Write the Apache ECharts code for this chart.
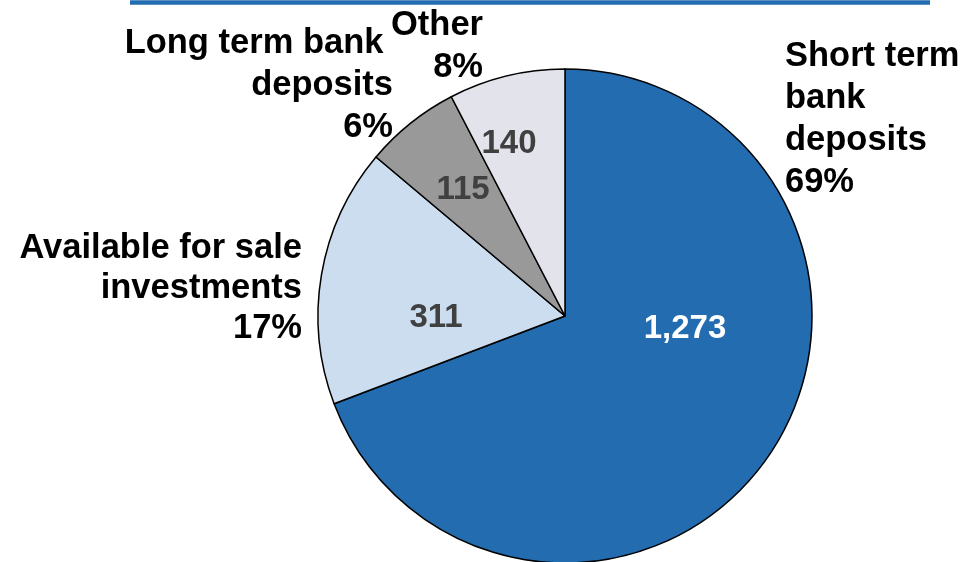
<!DOCTYPE html>
<html>
<head>
<meta charset="utf-8">
<script src="https://cdn.jsdelivr.net/npm/echarts@6/dist/echarts.min.js"></script>
<style>
html,body{margin:0;padding:0;background:#fff;}
#chart{width:974px;height:562px;}
</style>
</head>
<body>
<div id="chart"></div>
<script>
// Data
var categories = ['Short term\nbank\ndeposits', 'Available for sale\ninvestments', 'Long term bank \ndeposits', 'Other'];
var values = [1273, 311, 115, 140];
var percentLabels = ['69%', '17%', '6%', '8%'];
var valueLabels = ['1,273', '311', '115', '140'];

var colors = ['#236CB0', '#CCDDEF', '#999999', '#E3E3EC'];
var innerColors = ['#ffffff', '#404040', '#404040', '#404040'];

// Label layout (text placement, not marks)
var innerPos = [[685, 329], [436, 318], [463, 190], [509, 144]];
var outerPos = [
  {x: 785, y: 35, align: 'left'},
  {x: 302, y: 228, align: 'right'},
  {x: 393, y: 22, align: 'right'},
  {x: 483, y: 4, align: 'right'}
];

var FONT = '"Liberation Sans", Arial, Helvetica, sans-serif';

var chart = echarts.init(document.getElementById('chart'));

var option = {
  animation: false,
  backgroundColor: '#ffffff',
  graphic: [{
    type: 'line',
    shape: {x1: 130, y1: 2.5, x2: 930, y2: 2.5},
    style: {stroke: '#236CB0', lineWidth: 4.5}
  }],
  series: [
    {
      type: 'pie',
      center: [565, 316],
      radius: 247,
      startAngle: 90,
      clockwise: true,
      avoidLabelOverlap: false,
      silent: true,
      itemStyle: {borderColor: '#000000', borderWidth: 1.5},
      label: {
        show: true,
        position: 'inside',
        fontFamily: FONT,
        fontWeight: 'bold',
        fontSize: 33,
        formatter: function (p) { return valueLabels[p.dataIndex]; },
        color: '#404040'
      },
      labelLine: {show: false},
      labelLayout: function (p) {
        var pos = innerPos[p.dataIndex];
        return {x: pos[0], y: pos[1], align: 'center', verticalAlign: 'middle'};
      },
      data: values.map(function (v, i) {
        return {
          value: v, name: categories[i],
          itemStyle: {color: colors[i]},
          label: {color: innerColors[i]}
        };
      })
    },
    {
      type: 'pie',
      center: [565, 316],
      radius: 247,
      startAngle: 90,
      clockwise: true,
      avoidLabelOverlap: false,
      silent: true,
      itemStyle: {color: 'rgba(0,0,0,0)', borderWidth: 0},
      label: {
        show: true,
        position: 'outside',
        fontFamily: FONT,
        fontWeight: 'bold',
        fontSize: 34.5,
        lineHeight: 42,
        color: '#000000',
        formatter: function (p) { return p.name + '\n' + percentLabels[p.dataIndex]; }
      },
      labelLine: {show: false},
      labelLayout: function (p) {
        var pos = outerPos[p.dataIndex];
        return {x: pos.x, y: pos.y, align: pos.align, verticalAlign: 'top'};
      },
      data: values.map(function (v, i) {
        return {
          value: v, name: categories[i],
          label: i === 1 ? {lineHeight: 40, align: 'right'} : {align: outerPos[i].align}
        };
      })
    }
  ]
};

chart.setOption(option);
</script>
</body>
</html>
